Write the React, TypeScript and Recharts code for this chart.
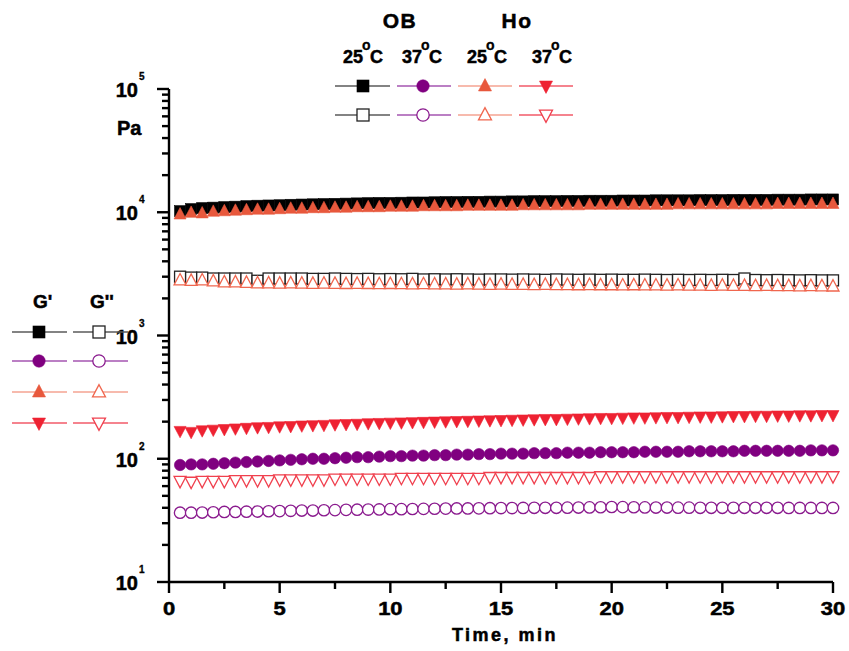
import { Line, LineChart, XAxis, YAxis } from "recharts";

const times = [
  0.5, 1, 1.5, 2, 2.5, 3, 3.5, 4, 4.5, 5,
  5.5, 6, 6.5, 7, 7.5, 8, 8.5, 9, 9.5, 10,
  10.5, 11, 11.5, 12, 12.5, 13, 13.5, 14, 14.5, 15,
  15.5, 16, 16.5, 17, 17.5, 18, 18.5, 19, 19.5, 20,
  20.5, 21, 21.5, 22, 22.5, 23, 23.5, 24, 24.5, 25,
  25.5, 26, 26.5, 27, 27.5, 28, 28.5, 29, 29.5, 30,
];

// OB 25 °C
const ob25Storage = [
  10200, 10600, 10800, 10900, 11000, 11100, 11200, 11300, 11350, 11400,
  11500, 11550, 11600, 11650, 11700, 11750, 11800, 11850, 11900, 11900,
  11950, 12000, 12000, 12050, 12100, 12100, 12150, 12150, 12200, 12200,
  12250, 12250, 12300, 12300, 12300, 12350, 12350, 12400, 12400, 12400,
  12450, 12450, 12450, 12500, 12500, 12500, 12500, 12550, 12550, 12550,
  12600, 12600, 12600, 12600, 12650, 12650, 12650, 12700, 12700, 12700,
];
const ob25Loss = [
  3000, 2950, 2950, 2900, 2900, 2900, 2900, 2780, 2900, 2900,
  2900, 2900, 2880, 2880, 2900, 2880, 2870, 2880, 2860, 2870,
  2860, 2880, 2850, 2860, 2850, 2860, 2850, 2840, 2850, 2850,
  2840, 2850, 2840, 2830, 2850, 2840, 2830, 2840, 2830, 2840,
  2830, 2830, 2840, 2830, 2820, 2830, 2820, 2830, 2820, 2830,
  2820, 2900, 2820, 2810, 2820, 2810, 2800, 2810, 2800, 2800,
];

// OB 37 °C
const ob37Storage = [
  89, 90, 90, 91, 92, 93, 94, 95, 96, 97,
  98, 99, 100, 100, 101, 102, 103, 103, 104, 105,
  105, 106, 106, 107, 107, 108, 108, 109, 109, 110,
  110, 110, 111, 111, 111, 112, 112, 112, 113, 113,
  113, 113, 114, 114, 114, 114, 115, 115, 115, 115,
  115, 116, 116, 116, 116, 116, 116, 117, 117, 117,
];
const ob37Loss = [
  36.5, 36.5, 36.6, 36.8, 37, 37, 37.2, 37.3, 37.5, 37.6,
  37.8, 38, 38, 38.2, 38.3, 38.5, 38.6, 38.7, 38.8, 39,
  39, 39.1, 39.2, 39.3, 39.4, 39.5, 39.5, 39.6, 39.7, 39.8,
  39.8, 39.9, 40, 40, 40, 40.1, 40.2, 40.3, 40.4, 40.6,
  40.5, 40.4, 40.3, 40.2, 40.2, 40.1, 40.1, 40, 40, 40,
  40, 40, 40, 40, 40, 39.9, 39.9, 39.9, 39.9, 39.9,
];

// Ho 25 °C
const ho25Storage = [
  9600, 9900, 9800, 10100, 10200, 10300, 10400, 10500, 10500, 10600,
  10700, 10700, 10800, 10800, 10900, 10900, 11000, 11000, 11000, 11100,
  11100, 11100, 11200, 11200, 11200, 11200, 11300, 11300, 11300, 11300,
  11300, 11400, 11400, 11400, 11400, 11400, 11400, 11500, 11500, 11500,
  11500, 11500, 11500, 11500, 11500, 11600, 11600, 11600, 11600, 11600,
  11600, 11600, 11600, 11600, 11700, 11700, 11700, 11700, 11700, 11700,
];
const ho25Loss = [
  2800, 2780, 2800, 2750, 2700, 2700, 2680, 2650, 2650, 2640,
  2650, 2640, 2630, 2640, 2630, 2620, 2630, 2620, 2610, 2620,
  2610, 2600, 2610, 2600, 2600, 2590, 2600, 2590, 2580, 2590,
  2580, 2580, 2570, 2580, 2570, 2570, 2560, 2570, 2560, 2560,
  2550, 2560, 2550, 2550, 2540, 2550, 2540, 2540, 2530, 2540,
  2530, 2530, 2520, 2530, 2520, 2520, 2510, 2520, 2510, 2500,
];

// Ho 37 °C
const ho37Storage = [
  168, 165, 170, 172, 174, 176, 178, 180, 181, 183,
  184, 186, 187, 188, 190, 191, 192, 194, 195, 196,
  197, 198, 199, 200, 201, 202, 203, 204, 205, 206,
  207, 208, 209, 210, 210, 211, 212, 213, 214, 214,
  215, 216, 216, 217, 218, 218, 219, 220, 220, 221,
  222, 222, 223, 223, 224, 224, 225, 225, 226, 226,
];
const ho37Loss = [
  66, 65, 66, 66, 66, 67, 67, 67, 67, 68,
  68, 68, 68, 68, 69, 69, 69, 69, 69, 69,
  70, 70, 70, 70, 70, 70, 70, 70, 71, 71,
  71, 71, 71, 71, 71, 71, 71, 71, 72, 72,
  72, 72, 72, 72, 72, 72, 72, 72, 72, 72,
  72, 72, 72, 72, 72, 72, 72, 72, 72, 72,
];

const xTicks = [0, 2.5, 5, 7.5, 10, 12.5, 15, 17.5, 20, 22.5, 25, 27.5, 30];
const yTicks = [
  10, 20, 30, 40, 50, 60, 70, 80, 90,
  100, 200, 300, 400, 500, 600, 700, 800, 900,
  1000, 2000, 3000, 4000, 5000, 6000, 7000, 8000, 9000,
  10000, 20000, 30000, 40000, 50000, 60000, 70000, 80000, 90000,
  100000,
];

const data = times.map((t, i) => ({
  t,
  ob25s: ob25Storage[i],
  ob25l: ob25Loss[i],
  ob37s: ob37Storage[i],
  ob37l: ob37Loss[i],
  ho25s: ho25Storage[i],
  ho25l: ho25Loss[i],
  ho37s: ho37Storage[i],
  ho37l: ho37Loss[i],
}));

type Kind = "square" | "circle" | "up" | "down";

const groups = [
  { id: "ob25", kind: "square" as Kind, fill: "#000000", open: "#222222", line: "#5a5a5a" },
  { id: "ob37", kind: "circle" as Kind, fill: "#800080", open: "#8a1a8e", line: "#a555b0" },
  { id: "ho25", kind: "up" as Kind, fill: "#e8583c", open: "#f0664e", line: "#f4a392" },
  { id: "ho37", kind: "down" as Kind, fill: "#ee2232", open: "#f0404e", line: "#f25a68" },
];

const FONT = "'Liberation Sans', Arial, sans-serif";
const bold = { fontFamily: FONT, fontWeight: "bold" as const, fill: "#000", stroke: "#000", strokeWidth: 0.5 };

function Marker({ kind, cx, cy, color, filled, size = 12 }: {
  kind: Kind; cx: number; cy: number; color: string; filled: boolean; size?: number;
}) {
  const h = size / 2;
  const fill = filled ? color : "#ffffff";
  const sw = filled ? 0.6 : 1.3;
  if (kind === "square") {
    const s = size - 1;
    return <rect x={cx - s / 2} y={cy - s / 2} width={s} height={s} fill={fill} stroke={color} strokeWidth={sw} />;
  }
  if (kind === "circle") {
    return <circle cx={cx} cy={cy} r={h - 0.3} fill={fill} stroke={color} strokeWidth={sw} />;
  }
  const th = size * 0.95;
  const pts =
    kind === "up"
      ? `${cx},${cy - th * 0.6} ${cx - h},${cy + th * 0.4} ${cx + h},${cy + th * 0.4}`
      : `${cx},${cy + th * 0.6} ${cx - h},${cy - th * 0.4} ${cx + h},${cy - th * 0.4}`;
  return <polygon points={pts} fill={fill} stroke={color} strokeWidth={sw} />;
}

// with tickSize 0 and tickMargin 0, (x, y) is the point on the axis line
function XTick(props: any) {
  const { x, y, payload } = props;
  const major = payload.value % 5 === 0;
  return (
    <g>
      <rect x={x - 1.2} y={y} width={2.4} height={major ? 11 : 7} fill="#000" />
      {major && (
        <text x={0} y={0} transform={`translate(${x},${y + 33}) scale(1.22,1)`} textAnchor="middle" fontSize={18} {...bold}>
          {payload.value}
        </text>
      )}
    </g>
  );
}

function YTick(props: any) {
  const { x, y, payload } = props;
  const exp = Math.log10(payload.value);
  const major = Math.abs(exp - Math.round(exp)) < 1e-6;
  return (
    <g>
      <rect x={x - (major ? 12 : 7)} y={y - 1.2} width={major ? 12 : 7} height={2.4} fill="#000" />
      {major && (
        <>
          <text x={x - 31} y={y + 8} textAnchor="end" fontSize={20} {...bold}>
            10
          </text>
          <text x={x - 30} y={y - 9} fontSize={10} {...bold} strokeWidth={0.3}>
            {Math.round(exp)}
          </text>
        </>
      )}
    </g>
  );
}

function Deg({ x, y, label }: { x: number; y: number; label: string }) {
  return (
    <g {...bold}>
      <text x={x} y={y} fontSize={18}>{label}</text>
      <text x={x + 19} y={y - 13} fontSize={14} strokeWidth={0.3}>o</text>
      <text x={x + 27} y={y} fontSize={18}>C</text>
    </g>
  );
}

function LegendEntry({ x1, x2, cx, cy, g, filled }: {
  x1: number; x2: number; cx: number; cy: number; g: (typeof groups)[number]; filled: boolean;
}) {
  return (
    <g>
      <line x1={x1} x2={x2} y1={cy} y2={cy} stroke={g.line} strokeWidth={1.6} />
      <Marker kind={g.kind} cx={cx} cy={cy} color={filled ? g.fill : g.open} filled={filled} size={13} />
    </g>
  );
}

const topCols = [
  { x1: 335, x2: 390, cx: 363, label: "25", lx: 343 },
  { x1: 397, x2: 451, cx: 423, label: "37", lx: 402 },
  { x1: 458, x2: 512, cx: 485, label: "25", lx: 467 },
  { x1: 519, x2: 573, cx: 546, label: "37", lx: 532 },
];
const leftRows = [332, 361, 392, 423];

export default function App() {
  return (
    <div style={{ position: "absolute", left: 0, top: 0, width: 849, height: 651, background: "#fff" }}>
      <LineChart width={849} height={651} data={data} margin={{ top: 89, right: 16, bottom: 0, left: 0 }}>
        <XAxis
          dataKey="t"
          type="number"
          domain={[0, 30]}
          ticks={xTicks}
          interval={0}
          height={69}
          tickSize={0}
          tickMargin={0}
          tick={<XTick />}
          axisLine={{ stroke: "#000", strokeWidth: 2.4 }}
          tickLine={false}
        />
        <YAxis
          type="number"
          scale="log"
          domain={[10, 100000]}
          allowDataOverflow
          ticks={yTicks}
          interval={0}
          width={169}
          tickSize={0}
          tickMargin={0}
          tick={<YTick />}
          axisLine={{ stroke: "#000", strokeWidth: 2.4 }}
          tickLine={false}
        />
        {groups.flatMap((g) =>
          [true, false].map((filled) => (
            <Line
              key={`${g.id}${filled ? "s" : "l"}`}
              dataKey={`${g.id}${filled ? "s" : "l"}`}
              stroke="none"
              isAnimationActive={false}
              activeDot={false}
              dot={(p: any) => (
                <Marker
                  key={`${g.id}${filled}-${p.index}`}
                  kind={g.kind}
                  cx={p.cx}
                  cy={p.cy}
                  color={filled ? g.fill : g.open}
                  filled={filled}
                />
              )}
            />
          ))
        )}
      </LineChart>
      <svg width={849} height={651} style={{ position: "absolute", left: 0, top: 0, pointerEvents: "none" }}>
        <text x={117} y={135} fontSize={20} {...bold}>Pa</text>
        <text x={505} y={641} textAnchor="middle" fontSize={18} letterSpacing={2.5} {...bold}>
          Time, min
        </text>
        <text x={400} y={28} textAnchor="middle" fontSize={21} letterSpacing={1.5} {...bold}>OB</text>
        <text x={517} y={28} textAnchor="middle" fontSize={21} letterSpacing={1.5} {...bold}>Ho</text>
        {topCols.map((c, i) => (
          <g key={i}>
            <Deg x={c.lx} y={63} label={c.label} />
            <LegendEntry x1={c.x1} x2={c.x2} cx={c.cx} cy={86} g={groups[i]} filled />
            <LegendEntry x1={c.x1} x2={c.x2} cx={c.cx} cy={115} g={groups[i]} filled={false} />
          </g>
        ))}
        <text x={33} y={308} fontSize={19} {...bold}>G'</text>
        <text x={90} y={308} fontSize={19} {...bold}>G''</text>
        {leftRows.map((ry, i) => (
          <g key={i}>
            <LegendEntry x1={12} x2={67} cx={39} cy={ry} g={groups[i]} filled />
            <LegendEntry x1={73} x2={128} cx={99} cy={ry} g={groups[i]} filled={false} />
          </g>
        ))}
      </svg>
    </div>
  );
}
